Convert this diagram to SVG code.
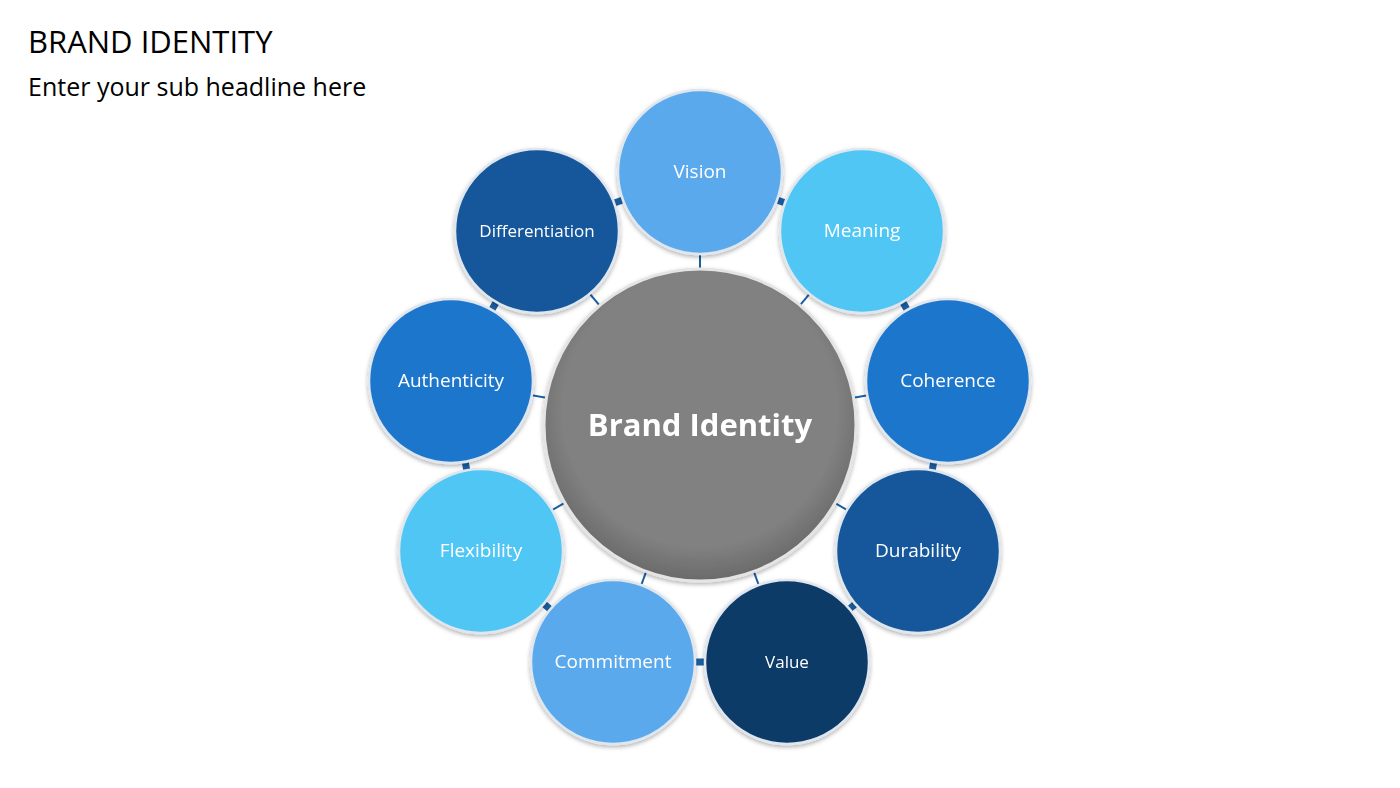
<svg xmlns="http://www.w3.org/2000/svg" width="1400" height="788" viewBox="0 0 1400 788">
<style>
.t{font-family:"Open Sans","Liberation Sans",sans-serif;fill:#fff;text-anchor:middle;dominant-baseline:central;font-size:19px}
.h{font-family:"Open Sans","Liberation Sans",sans-serif;fill:#000}
.c{stroke:#dfe6ee;stroke-width:2.5}
.ring{stroke:#1a5fa3;stroke-width:7}
.rad{stroke:#1a5fa3;stroke-width:2}
</style>
<defs>
<radialGradient id="g" cx="50%" cy="45%" r="55%"><stop offset="0.8" stop-color="#818181"/><stop offset="1" stop-color="#6a6a6a"/></radialGradient>
<filter id="s" x="-20%" y="-20%" width="140%" height="140%"><feDropShadow dx="0" dy="2" stdDeviation="2" flood-opacity="0.3"/></filter>
</defs>
<rect width="1400" height="788" fill="#fff"/>
<text class="h" x="28" y="53" style="font-size:31px">BRAND IDENTITY</text>
<text class="h" x="28" y="96" style="font-size:25px">Enter your sub headline here</text>
<g id="connectors">
<polyline class="ring" fill="none" points="700,172 862,231 948,381 918,551 787,662 613,662 481,551 451,381 537,231 700,172"/>
<line class="rad" x1="700" y1="425" x2="700" y2="172"/>
<line class="rad" x1="700" y1="425" x2="862" y2="231"/>
<line class="rad" x1="700" y1="425" x2="948" y2="381"/>
<line class="rad" x1="700" y1="425" x2="918" y2="551"/>
<line class="rad" x1="700" y1="425" x2="787" y2="662"/>
<line class="rad" x1="700" y1="425" x2="613" y2="662"/>
<line class="rad" x1="700" y1="425" x2="481" y2="551"/>
<line class="rad" x1="700" y1="425" x2="451" y2="381"/>
<line class="rad" x1="700" y1="425" x2="537" y2="231"/>
</g>
<g id="center" filter="url(#s)"><circle cx="700" cy="425" r="156" fill="url(#g)" stroke="#e4e4e4" stroke-width="3"/><text class="t" x="700" y="424" style="font-size:31px;font-weight:bold">Brand Identity</text></g>
<g id="vision" filter="url(#s)"><circle class="c" cx="700" cy="172" r="82" fill="#5aa9ec"/><text class="t" x="700" y="171">Vision</text></g>
<g id="meaning" filter="url(#s)"><circle class="c" cx="862" cy="231" r="82" fill="#4fc6f3"/><text class="t" x="862" y="230">Meaning</text></g>
<g id="coherence" filter="url(#s)"><circle class="c" cx="948" cy="381" r="82" fill="#1f76cc"/><text class="t" x="948" y="380">Coherence</text></g>
<g id="durability" filter="url(#s)"><circle class="c" cx="918" cy="551" r="82" fill="#14579a"/><text class="t" x="918" y="550">Durability</text></g>
<g id="value" filter="url(#s)"><circle class="c" cx="787" cy="662" r="82" fill="#0d3a68"/><text class="t" x="787" y="661" style="font-size:17px">Value</text></g>
<g id="commitment" filter="url(#s)"><circle class="c" cx="613" cy="662" r="82" fill="#5aa9ec"/><text class="t" x="613" y="661">Commitment</text></g>
<g id="flexibility" filter="url(#s)"><circle class="c" cx="481" cy="551" r="82" fill="#4fc6f3"/><text class="t" x="481" y="550">Flexibility</text></g>
<g id="authenticity" filter="url(#s)"><circle class="c" cx="451" cy="381" r="82" fill="#1f76cc"/><text class="t" x="451" y="380">Authenticity</text></g>
<g id="differentiation" filter="url(#s)"><circle class="c" cx="537" cy="231" r="82" fill="#15579a"/><text class="t" x="537" y="230" style="font-size:17px">Differentiation</text></g>
</svg>
